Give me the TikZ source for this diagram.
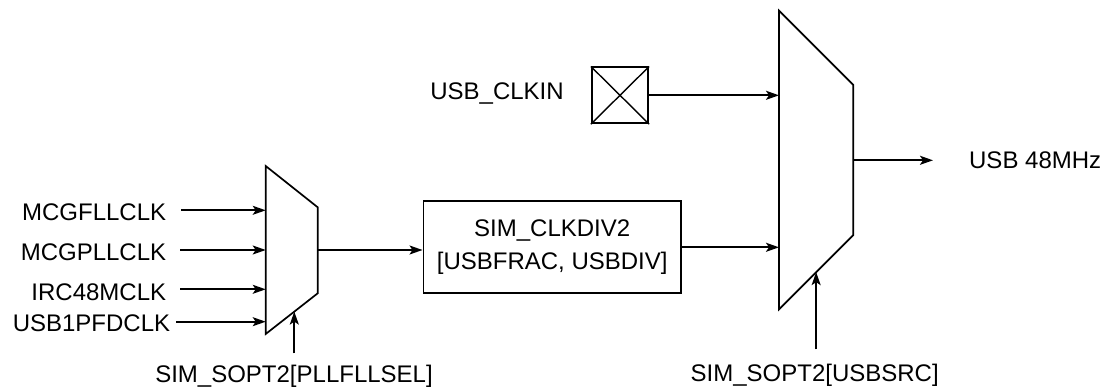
\documentclass[tikz,border=0pt]{standalone}
\usepackage{fontspec}
\setmainfont{Liberation Sans}
\usetikzlibrary{arrows.meta,calc}
\begin{document}
\begin{tikzpicture}[x=1pt,y=-1pt,
  line width=1.7pt, line join=miter,
  arr/.style={-{Stealth[length=13pt,width=9pt,inset=3pt]}},
  lbl/.style={inner sep=0pt, font=\fontsize{24}{32.3}\selectfont},
  box/.style={draw, inner sep=0pt}]
\useasboundingbox (0,0) rectangle (1105,387);
% left mux
\coordinate (ma) at (265.7,166);
\coordinate (mb) at (317.7,207.3);
\coordinate (mc) at (317.7,293.3);
\coordinate (md) at (265.7,334);
\draw (ma) -- (mb) -- (mc) -- (md) -- cycle;
\coordinate (mi1) at (265.7,210.3);
\coordinate (mi2) at (265.7,250);
\coordinate (mi3) at (265.7,289.3);
\coordinate (mi4) at (265.7,321.7);
\coordinate (mo) at (317.7,250);
% right mux
\coordinate (na) at (779,10.7);
\coordinate (nb) at (853.3,85);
\coordinate (nc) at (853.3,235);
\coordinate (nd) at (779,309.3);
\draw (na) -- (nb) -- (nc) -- (nd) -- cycle;
\coordinate (ni1) at (779,95.3);
\coordinate (ni2) at (779,247.3);
\coordinate (no) at (853.3,160.3);
\coordinate (nout) at (933,160.3);
% input labels
\node[lbl, anchor=base east] (l1) at (167,221) {MCGFLLCLK};
\node[lbl, anchor=base east] (l2) at (167,261) {MCGPLLCLK};
\node[lbl, anchor=base east] (l3) at (167,300) {IRC48MCLK};
\node[lbl, anchor=base east] (l4) at (171,331) {USB1PFDCLK};
\draw[arr] ([xshift=14pt]mi1 -| l1.east) -- (mi1);
\draw[arr] ([xshift=13pt]mi2 -| l2.east) -- (mi2);
\draw[arr] ([xshift=13pt]mi3 -| l3.east) -- (mi3);
\draw[arr] ([xshift=5pt]mi4 -| l4.east) -- (mi4);
% divider box
\node[box, lbl, minimum width=257.7pt, minimum height=92.6pt, align=center] (div) at (552.2,247) {SIM\_CLKDIV2\\{}[USBFRAC, USBDIV]};
\draw[arr] (mo) -- (mo -| div.west);
\draw[arr] (div.east |- ni2) -- (ni2);
% pad
\node[box, minimum width=56.6pt, minimum height=56pt] (pad) at (620,95.3) {};
\draw[line width=1.4pt] (pad.north west) -- (pad.south east) (pad.north east) -- (pad.south west);
\node[lbl, anchor=base] (clkin) at (497,100) {USB\_CLKIN};
\draw[arr] (pad.east |- ni1) -- (ni1);
% output
\draw[arr] (no) -- (nout);
\node[lbl, anchor=base west] (usb48) at (968.3,169) {USB 48MHz};
% select lines
\coordinate (s1) at ($(md)!0.55!(mc)$);
\coordinate (s2) at ($(nd)!0.5!(nc)$);
\node[lbl, anchor=base] (sel1) at (294,382) {SIM\_SOPT2[PLLFLLSEL]};
\node[lbl, anchor=base] (sel2) at (814.7,381) {SIM\_SOPT2[USBSRC]};
\draw[arr] (s1 |- 0,353.3) -- (s1);
\draw[arr] (s2 |- 0,349.3) -- (s2);
\end{tikzpicture}
\end{document}
